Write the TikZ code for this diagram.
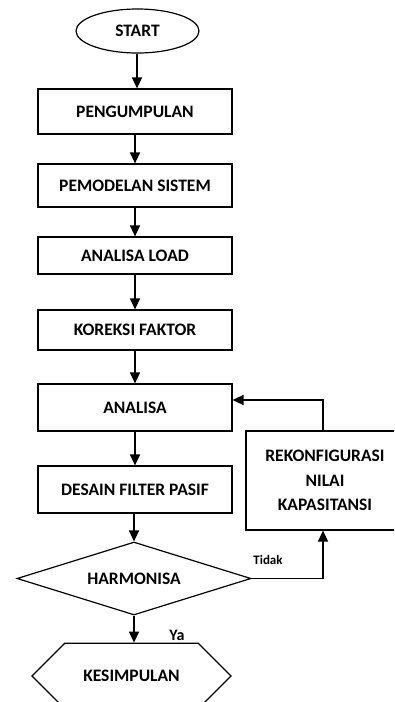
\documentclass[tikz,border=0pt]{standalone}
\usepackage{fontspec}
\setmainfont{Carlito}
\usetikzlibrary{arrows.meta,shapes.geometric,shapes.misc}
\begin{document}
\begin{tikzpicture}[x=1pt,y=-1pt,
  every node/.style={font=\bfseries\fontsize{17.5}{20}\selectfont},
  procbox/.style={draw,line width=1.2pt,minimum width=194pt,inner sep=0pt},
  arr/.style={line width=1.4pt,-{Triangle[length=11pt,width=10pt]}},
  lbl/.style={font=\bfseries\fontsize{13}{15}\selectfont}]
\useasboundingbox (0,0) rectangle (394,702);
\clip (0,0) rectangle (394,702);
\node[draw,ellipse,line width=1.2pt,minimum width=123pt,minimum height=44pt,inner sep=0pt] (start) at (137.5,31) {START};
\node[procbox,minimum height=45pt] (p1) at (135,111.5) {PENGUMPULAN};
\node[procbox,minimum height=43pt] (p2) at (135,185.5) {PEMODELAN SISTEM};
\node[procbox,minimum height=37pt] (p3) at (135,255.5) {ANALISA LOAD};
\node[procbox,minimum height=40pt] (p4) at (135,330) {KOREKSI FAKTOR};
\node[procbox,minimum height=47pt] (p5) at (135,407.5) {ANALISA};
\node[procbox,minimum height=47pt] (p6) at (135,489.5) {DESAIN FILTER PASIF};
\node[draw,line width=1.2pt,minimum width=158pt,minimum height=99pt,inner sep=0pt,align=center,font=\bfseries\fontsize{17.5}{24.5}\selectfont] (rk) at (325,480.5) {REKONFIGURASI\\NILAI\\KAPASITANSI};
\node[draw,diamond,aspect=3.2,line width=1.2pt,minimum width=234pt,minimum height=73pt,inner sep=0pt] (d) at (134,578.5) {HARMONISA};
\node[draw,line width=1.2pt,chamfered rectangle,chamfered rectangle xsep=25pt,chamfered rectangle ysep=27pt,chamfered rectangle corners={north west,south west,north east,south east},minimum width=199pt,minimum height=56pt,inner sep=0pt] (k) at (131.5,676) {KESIMPULAN};
\draw[arr] (start.south -| 137,0) -- (p1.north -| 137,0);
\draw[arr] (p1) -- (p2);
\draw[arr] (p2) -- (p3);
\draw[arr] (p3) -- (p4);
\draw[arr] (p4) -- (p5);
\draw[arr] (p5) -- (p6);
\draw[arr] (p6.south -| d.north) -- (d.north);
\draw[arr] (d.south) -- (k.north -| d.south);
\coordinate (tc) at (323,578.5);
\draw[arr] (d.east) -- (tc) -- (rk.south -| tc);
\coordinate (lc) at (323,400);
\draw[arr] (rk.north -| lc) -- (lc) -- (p5.east |- lc);
\node[lbl] (tidak) at (268,560) {Tidak};
\node[lbl,font=\bfseries\fontsize{16}{18}\selectfont] (ya) at (177,635) {Ya};
\end{tikzpicture}
\end{document}
